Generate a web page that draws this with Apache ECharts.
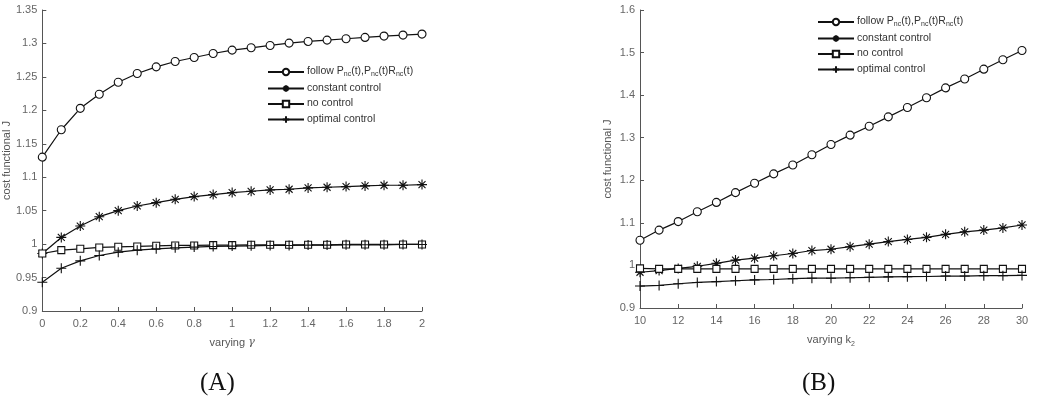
<!DOCTYPE html>
<html>
<head>
<meta charset="utf-8">
<script src="https://cdn.jsdelivr.net/npm/echarts@6/dist/echarts.min.js"></script>
<style>
  html, body { margin: 0; padding: 0; background: #fff; }
  #main { width: 1044px; height: 408px; }
</style>
</head>
<body>
<div id="main"></div>
<script>
// panel A: varying gamma
var gammaVals = [0, 0.1, 0.2, 0.3, 0.4, 0.5, 0.6, 0.7, 0.8, 0.9, 1.0, 1.1, 1.2, 1.3, 1.4, 1.5, 1.6, 1.7, 1.8, 1.9, 2.0];
var followA   = [1.130, 1.171, 1.203, 1.224, 1.242, 1.255, 1.265, 1.273, 1.279, 1.285, 1.290, 1.2935, 1.297, 1.3005, 1.303, 1.305, 1.307, 1.309, 1.311, 1.3125, 1.314];
var constantA = [0.986, 1.010, 1.027, 1.041, 1.050, 1.057, 1.062, 1.067, 1.071, 1.074, 1.077, 1.079, 1.081, 1.082, 1.084, 1.085, 1.086, 1.087, 1.088, 1.088, 1.089];
var noCtrlA   = [0.986, 0.991, 0.993, 0.995, 0.996, 0.9965, 0.9975, 0.998, 0.998, 0.9985, 0.9985, 0.999, 0.999, 0.999, 0.999, 0.999, 0.9995, 0.9995, 0.9995, 0.9995, 0.9995];
var optimalA  = [0.943, 0.964, 0.975, 0.983, 0.988, 0.991, 0.993, 0.9945, 0.9955, 0.9965, 0.997, 0.9975, 0.998, 0.998, 0.9985, 0.9985, 0.999, 0.999, 0.999, 0.9995, 0.9995];

// panel B: varying k2
var k2Vals    = [10, 11, 12, 13, 14, 15, 16, 17, 18, 19, 20, 21, 22, 23, 24, 25, 26, 27, 28, 29, 30];
var followB   = [1.059, 1.083, 1.103, 1.126, 1.148, 1.171, 1.193, 1.215, 1.236, 1.260, 1.284, 1.306, 1.327, 1.349, 1.371, 1.394, 1.417, 1.438, 1.461, 1.483, 1.505];
var constantB = [0.984, 0.988, 0.993, 0.998, 1.005, 1.0125, 1.017, 1.0227, 1.028, 1.035, 1.038, 1.044, 1.050, 1.056, 1.061, 1.066, 1.073, 1.079, 1.083, 1.088, 1.095];
var noCtrlB   = [0.993, 0.992, 0.992, 0.992, 0.992, 0.992, 0.992, 0.992, 0.992, 0.992, 0.992, 0.992, 0.992, 0.992, 0.992, 0.992, 0.992, 0.992, 0.992, 0.992, 0.992];
var optimalB  = [0.9516, 0.953, 0.957, 0.960, 0.962, 0.964, 0.966, 0.967, 0.969, 0.970, 0.970, 0.971, 0.972, 0.973, 0.9735, 0.974, 0.975, 0.975, 0.976, 0.976, 0.9766];

var names = ['follow', 'constant control', 'no control', 'optimal control'];

var FONT = '"Liberation Sans", Arial, sans-serif';
var AX = '#555';
var INK = '#111';

// marker shapes, drawn as outlines with a white fill
var circle = 'path://M5,0A5,5,0,1,1,4.99,0Z';
var asterisk = 'path://M0,5L10,5M5,0L5,10M1.5,1.5L8.5,8.5M8.5,1.5L1.5,8.5';
var square = 'path://M0,0L10,0L10,10L0,10Z';
var plus = 'path://M0,5L10,5M5,0L5,10';
var symbols = [circle, asterisk, square, plus];
var symSizes = [8, 10, 7, 10];

function zip(xs, ys) {
    return xs.map(function (x, i) { return [x, ys[i]]; });
}

function makeSeries(idx, xs, ys, k) {
    return {
        name: names[k],
        type: 'line',
        xAxisIndex: idx,
        yAxisIndex: idx,
        data: zip(xs, ys),
        symbol: symbols[k],
        symbolSize: symSizes[k],
        showAllSymbol: true,
        animation: false,
        lineStyle: { color: INK, width: 1.2 },
        itemStyle: { color: '#fff', borderColor: INK, borderWidth: 1.1 },
        emphasis: { disabled: true }
    };
}

function makeXAxis(idx, min, max, interval, nameRich, gap) {
    return {
        type: 'value', gridIndex: idx, min: min, max: max, interval: interval,
        name: nameRich, nameLocation: 'middle', nameGap: gap,
        nameTextStyle: {
            color: '#555', fontFamily: FONT, fontSize: 11,
            rich: {
                a: { fontFamily: FONT, fontSize: 11, color: '#555', lineHeight: 14, verticalAlign: 'top' },
                g: { fontFamily: '"DejaVu Serif", serif', fontStyle: 'italic', fontSize: 11, color: '#555', lineHeight: 14, verticalAlign: 'top' },
                s: { fontFamily: FONT, fontSize: 7, color: '#555', lineHeight: 8, verticalAlign: 'bottom', padding: [6, 0, 0, 0] }
            }
        },
        axisLine: { onZero: false, lineStyle: { color: AX, width: 1 } },
        axisTick: { inside: true, length: 4, lineStyle: { color: AX } },
        axisLabel: { color: '#666', fontFamily: FONT, fontSize: 11, margin: 7 },
        splitLine: { show: false }
    };
}

function makeYAxis(idx, min, max, interval) {
    return {
        type: 'value', gridIndex: idx, min: min, max: max, interval: interval,
        name: 'cost functional J', nameLocation: 'middle', nameGap: 27,
        nameTextStyle: { color: '#555', fontFamily: FONT, fontSize: 11 },
        axisLine: { show: true, onZero: false, lineStyle: { color: AX, width: 1 } },
        axisTick: { show: true, inside: true, length: 4, lineStyle: { color: AX } },
        axisLabel: { color: '#666', fontFamily: FONT, fontSize: 11, margin: 5 },
        splitLine: { show: false }
    };
}

function legendFormatter(name) {
    if (name === 'follow') {
        return '{a|follow P}{s|nc}{a|(t),P}{s|nc}{a|(t)R}{s|nc}{a|(t)}';
    }
    return '{a|' + name + '}';
}

function makeLegend(left, top) {
    return {
        data: names, orient: 'vertical', left: left, top: top,
        itemWidth: 36, itemHeight: 8, itemGap: 4.5,
        selectedMode: false,
        formatter: legendFormatter,
        textStyle: {
            fontFamily: FONT, fontSize: 10.5, color: '#333', padding: [0, 0, 0, -2],
            rich: {
                a: { fontFamily: FONT, fontSize: 10.5, color: '#333', lineHeight: 12, verticalAlign: 'top' },
                s: { fontFamily: FONT, fontSize: 7, color: '#333', lineHeight: 6, verticalAlign: 'bottom', padding: [6, 0, 0, 0] }
            }
        }
    };
}

var series = [];
[followA, constantA, noCtrlA, optimalA].forEach(function (ys, k) { series.push(makeSeries(0, gammaVals, ys, k)); });
[followB, constantB, noCtrlB, optimalB].forEach(function (ys, k) { series.push(makeSeries(1, k2Vals, ys, k)); });

var myChart = echarts.init(document.getElementById('main'));
var option = {
    backgroundColor: '#fff',
    animation: false,
    grid: [
        { left: 40, top: 10, width: 382, height: 301 },
        { left: 640, top: 10, width: 382, height: 298 }
    ],
    xAxis: [
        makeXAxis(0, 0, 2, 0.2, '{a|varying }{g|γ}', 26),
        makeXAxis(1, 10, 30, 2, '{a|varying k}{s|2}', 26)
    ],
    yAxis: [
        makeYAxis(0, 0.9, 1.35, 0.05),
        makeYAxis(1, 0.9, 1.6, 0.1)
    ],
    legend: [
        makeLegend(262, 60),
        makeLegend(812, 10)
    ],
    graphic: [
        { type: 'text', left: 200, top: 371, style: { text: '(A)', font: '25px "Liberation Serif", "DejaVu Serif", serif', fill: '#111' } },
        { type: 'text', left: 802, top: 371, style: { text: '(B)', font: '25px "Liberation Serif", "DejaVu Serif", serif', fill: '#111' } }
    ],
    series: series
};
myChart.setOption(option);
</script>
</body>
</html>
